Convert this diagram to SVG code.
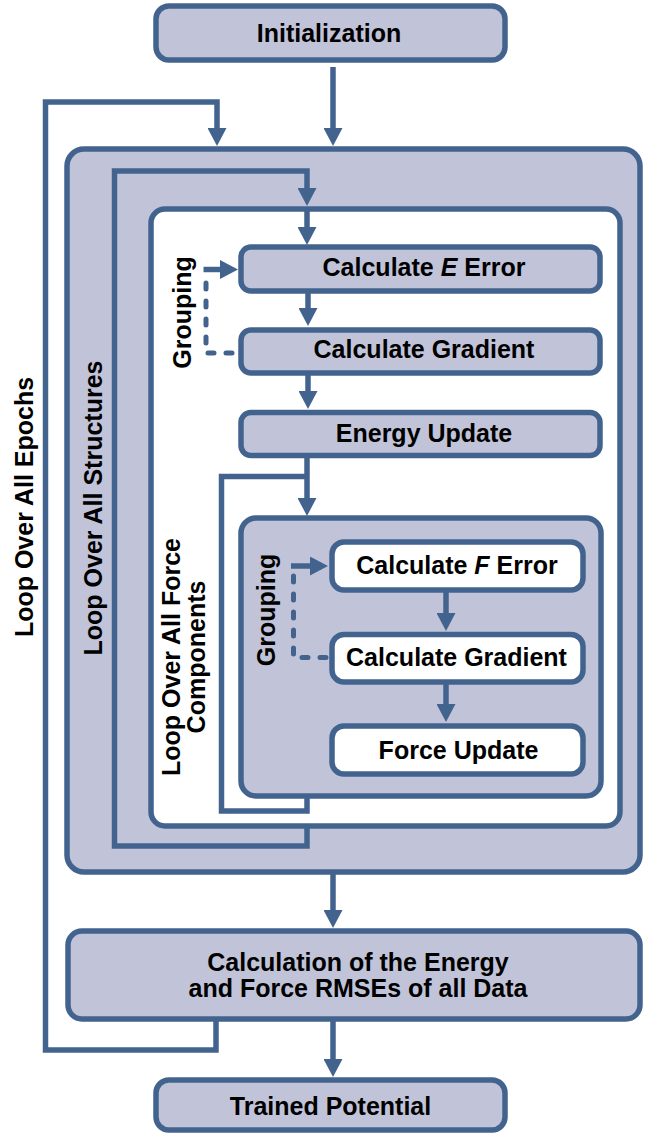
<svg xmlns="http://www.w3.org/2000/svg" width="654" height="1136" viewBox="0 0 654 1136">
<defs>
<style>
.box{fill:#c1c4d8;stroke:#43638f;stroke-width:5.5}
.wbox{fill:#ffffff;stroke:#43638f;stroke-width:5.5}
.t{font-family:"Liberation Sans",Arial,sans-serif;font-weight:bold;font-size:25px;fill:#000;text-anchor:middle}
.c{fill:none;stroke:#43638f;stroke-width:5.5;stroke-linejoin:miter}
.d{fill:none;stroke:#43638f;stroke-width:5;stroke-dasharray:6 12;stroke-linecap:round}
</style>
<marker id="ah" markerUnits="userSpaceOnUse" markerWidth="18" markerHeight="19" refX="6" refY="9.5" orient="auto" viewBox="0 0 18 19">
<path d="M0,0 L18,9.5 L0,19 Z" fill="#43638f"/>
</marker>
</defs>

<g id="init">
<rect class="box" x="156" y="6" width="349" height="54" rx="13"/>
<text class="t" x="329" y="42">Initialization</text>
</g>

<g id="epoch-box">
<rect class="box" x="67" y="149" width="573" height="723" rx="17"/>
</g>

<g id="structure-box">
<rect class="wbox" x="151" y="209" width="469" height="617" rx="14"/>
</g>

<g id="calc-e-error">
<rect class="box" x="241" y="247" width="359" height="44" rx="10"/>
<text class="t" x="424" y="276">Calculate <tspan font-style="italic">E</tspan> Error</text>
</g>

<g id="calc-e-gradient">
<rect class="box" x="241" y="330" width="359" height="43" rx="10"/>
<text class="t" x="424" y="358">Calculate Gradient</text>
</g>

<g id="energy-update">
<rect class="box" x="241" y="412.5" width="359" height="43" rx="10"/>
<text class="t" x="424" y="442">Energy Update</text>
</g>

<g id="force-box">
<rect class="box" x="241" y="518" width="360" height="278" rx="15"/>
</g>

<g id="calc-f-error">
<rect class="wbox" x="332" y="542" width="251" height="48" rx="12"/>
<text class="t" x="457" y="574">Calculate <tspan font-style="italic">F</tspan> Error</text>
</g>

<g id="calc-f-gradient">
<rect class="wbox" x="332" y="634.5" width="251" height="47.5" rx="12"/>
<text class="t" x="456.5" y="666">Calculate Gradient</text>
</g>

<g id="force-update">
<rect class="wbox" x="332" y="726" width="251" height="48" rx="12"/>
<text class="t" x="458.5" y="759">Force Update</text>
</g>

<g id="rmse">
<rect class="box" x="68" y="931" width="572" height="88" rx="14"/>
<text class="t" x="358" y="971">Calculation of the Energy</text>
<text class="t" x="358" y="997">and Force RMSEs of all Data</text>
</g>

<g id="trained">
<rect class="box" x="156" y="1080" width="349" height="50" rx="13"/>
<text class="t" x="330.5" y="1115">Trained Potential</text>
</g>

<g id="labels">
<text class="t" transform="translate(33,507) rotate(-90)">Loop Over All Epochs</text>
<text class="t" transform="translate(102,508) rotate(-90)">Loop Over All Structures</text>
<text class="t" transform="translate(180,657) rotate(-90)">Loop Over All Force</text>
<text class="t" transform="translate(205,657) rotate(-90)">Components</text>
<text class="t" transform="translate(191,312.5) rotate(-90)">Grouping</text>
<text class="t" transform="translate(275,610) rotate(-90)">Grouping</text>
</g>

<g id="connectors">
<path class="c" d="M333,67 V134" marker-end="url(#ah)"/>
<path class="c" d="M216,1021 V1050 H45.5 V102 H217 V134" marker-end="url(#ah)"/>
<path class="c" d="M307,828 V846 H114.5 V171 H307 V194" marker-end="url(#ah)"/>
<path class="c" d="M307,211 V233" marker-end="url(#ah)"/>
<path class="c" d="M308,292 V314" marker-end="url(#ah)"/>
<path class="c" d="M308,374 V397" marker-end="url(#ah)"/>
<path class="c" d="M307,457 V504" marker-end="url(#ah)"/>
<path class="c" d="M307,798 V811 H221.5 V476.5 H307"/>
<path class="c" d="M446,591 V619" marker-end="url(#ah)"/>
<path class="c" d="M446,683 V710" marker-end="url(#ah)"/>
<path class="c" d="M333,874 V916" marker-end="url(#ah)"/>
<path class="c" d="M333,1021 V1065" marker-end="url(#ah)"/>
<path class="d" d="M232,353 H206 V278"/>
<path class="c" d="M203.5,269.5 H226" marker-end="url(#ah)"/>
<path class="d" d="M326,657.5 H293.5 V575"/>
<path class="c" d="M291,566 H316" marker-end="url(#ah)"/>
</g>
</svg>
